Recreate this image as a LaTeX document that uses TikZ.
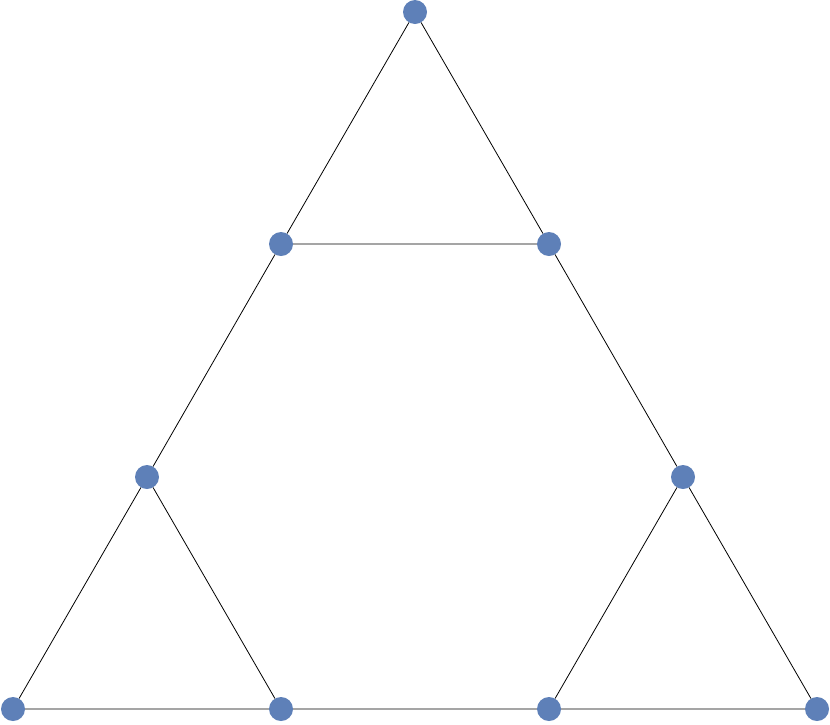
\documentclass[tikz,border=0pt]{standalone}
\definecolor{nodeblue}{HTML}{5E80B8}
\begin{document}
\begin{tikzpicture}[x=1pt,y=-1pt,
  dot/.style={circle,fill=nodeblue,draw=none,minimum size=24pt,inner sep=0pt},
  edge/.style={draw=black,line width=0.8pt}]
\useasboundingbox (0,0) rectangle (830,724);
\node[dot] (t) at (415,12) {};
\node[dot] (ml) at (281,244) {};
\node[dot] (mr) at (549,244) {};
\node[dot] (ll) at (147,477) {};
\node[dot] (rr) at (683,477) {};
\node[dot] (b1) at (13,709) {};
\node[dot] (b2) at (281,709) {};
\node[dot] (b3) at (549,709) {};
\node[dot] (b4) at (817,709) {};
\begin{scope}[on background layer/.try]
\end{scope}
\path[edge] (t) -- (ml) (t) -- (mr) (ml) -- (mr)
  (ml) -- (ll) (mr) -- (rr)
  (ll) -- (b1) (ll) -- (b2) (b1) -- (b2)
  (rr) -- (b3) (rr) -- (b4) (b3) -- (b4)
  (b2) -- (b3);
\end{tikzpicture}
\end{document}
